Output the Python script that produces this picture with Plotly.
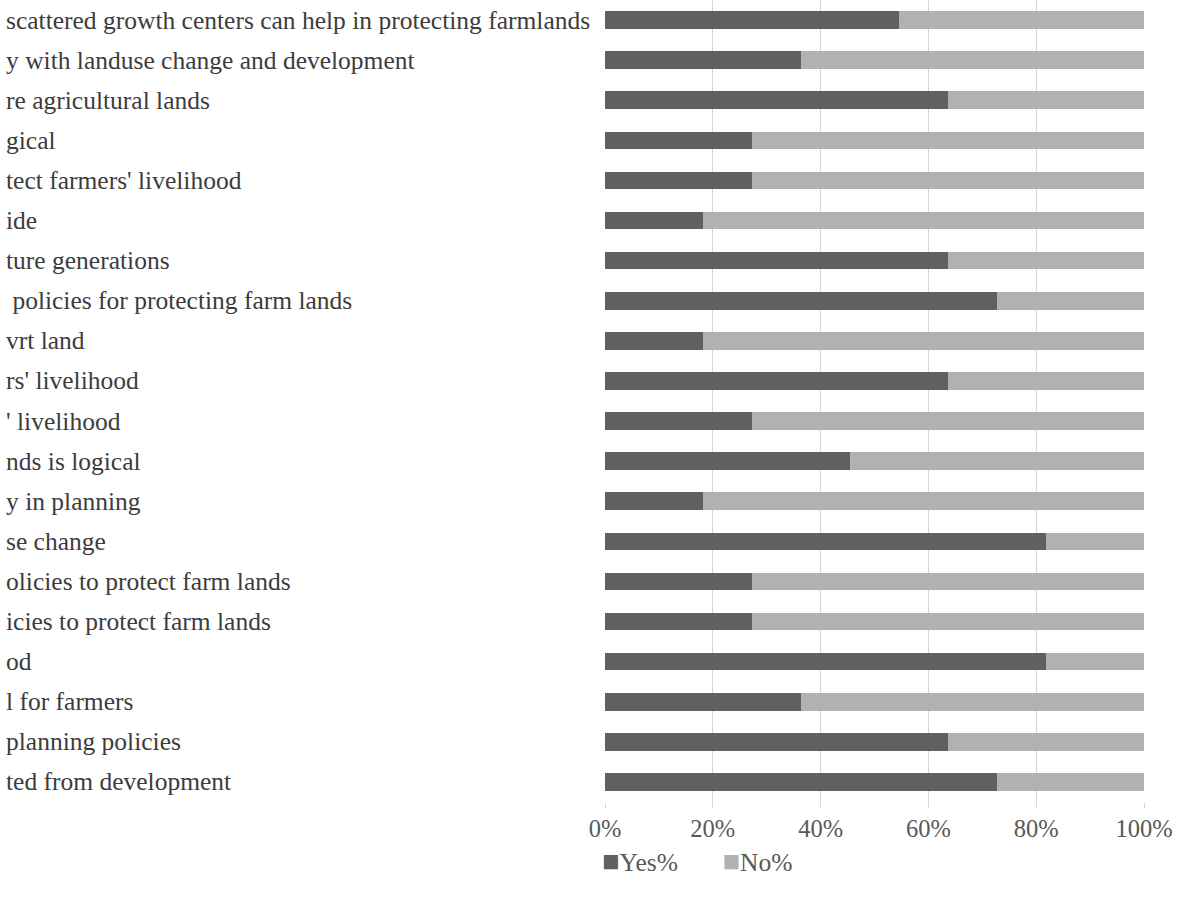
import plotly.graph_objects as go

labels = [
    "scattered growth centers can help in protecting farmlands",
    "y with landuse change and development",
    "re agricultural lands",
    "gical",
    "tect farmers' livelihood",
    "ide",
    "ture generations",
    " policies for protecting farm lands",
    "vrt land",
    "rs' livelihood",
    "' livelihood",
    "nds is logical",
    "y in planning",
    "se change",
    "olicies to protect farm lands",
    "icies to protect farm lands",
    "od",
    "l for farmers",
    "planning policies",
    "ted from development",
]
yes_pct = [54.5, 36.4, 63.6, 27.3, 27.3, 18.2, 63.6, 72.7, 18.2, 63.6,
           27.3, 45.5, 18.2, 81.8, 27.3, 27.3, 81.8, 36.4, 63.6, 72.7]
no_pct = [round(100 - v, 1) for v in yes_pct]
tick_vals = [0, 20, 40, 60, 80, 100]
tick_text = ["0%", "20%", "40%", "60%", "80%", "100%"]
series_names = ["Yes%", "No%"]
series_colors = ["#606060", "#b1b1b1"]

FONT = "Liberation Serif"
W, H = 1178, 901
L, R, T, B = 605, 34, 0, 99
plot_w = W - L - R
plot_h = H - T - B

fig = go.Figure()
for name, vals, col in zip(series_names, [yes_pct, no_pct], series_colors):
    fig.add_trace(go.Bar(y=labels, x=vals, orientation="h", name=name,
                         marker=dict(color=col, line=dict(width=0)),
                         showlegend=False))

annotations = []
for lab in labels:
    annotations.append(dict(
        text=lab, xref="paper", yref="y", x=(4 - L) / plot_w, y=lab,
        xanchor="left", yanchor="middle", showarrow=False,
        font=dict(family=FONT, size=25.5, color="#3c3c3c")))

# legend drawn as text with coloured squares (Excel-style tight spacing)
legend_text = "&nbsp;&nbsp;&nbsp;&nbsp;&nbsp;&nbsp;&nbsp;".join(
    f"<span style='color:{c};font-size:29px'>■</span>{n}"
    for n, c in zip(series_names, series_colors))
annotations.append(dict(
    text=legend_text, xref="paper", yref="paper",
    x=(697 - L) / plot_w, y=(plot_h - 861) / plot_h,
    xanchor="center", yanchor="middle", showarrow=False,
    font=dict(family=FONT, size=25.5, color="#595959")))

fig.update_layout(
    width=W, height=H,
    margin=dict(l=L, r=R, t=T, b=B),
    barmode="stack", bargap=0.56,
    plot_bgcolor="white", paper_bgcolor="white",
    font=dict(family=FONT, size=24, color="#595959"),
    annotations=annotations,
    showlegend=False,
    xaxis=dict(range=[0, 100], tickvals=tick_vals, ticktext=tick_text,
               showgrid=True, gridcolor="#d6d6d6", gridwidth=1,
               zeroline=False, showline=False,
               ticks="outside", ticklen=5, tickcolor="#d6d6d6",
               tickfont=dict(family=FONT, size=24.5, color="#595959")),
    yaxis=dict(autorange="reversed", showticklabels=False, showgrid=False,
               zeroline=False, showline=False, ticks=""),
)

fig.write_html("out.html")
